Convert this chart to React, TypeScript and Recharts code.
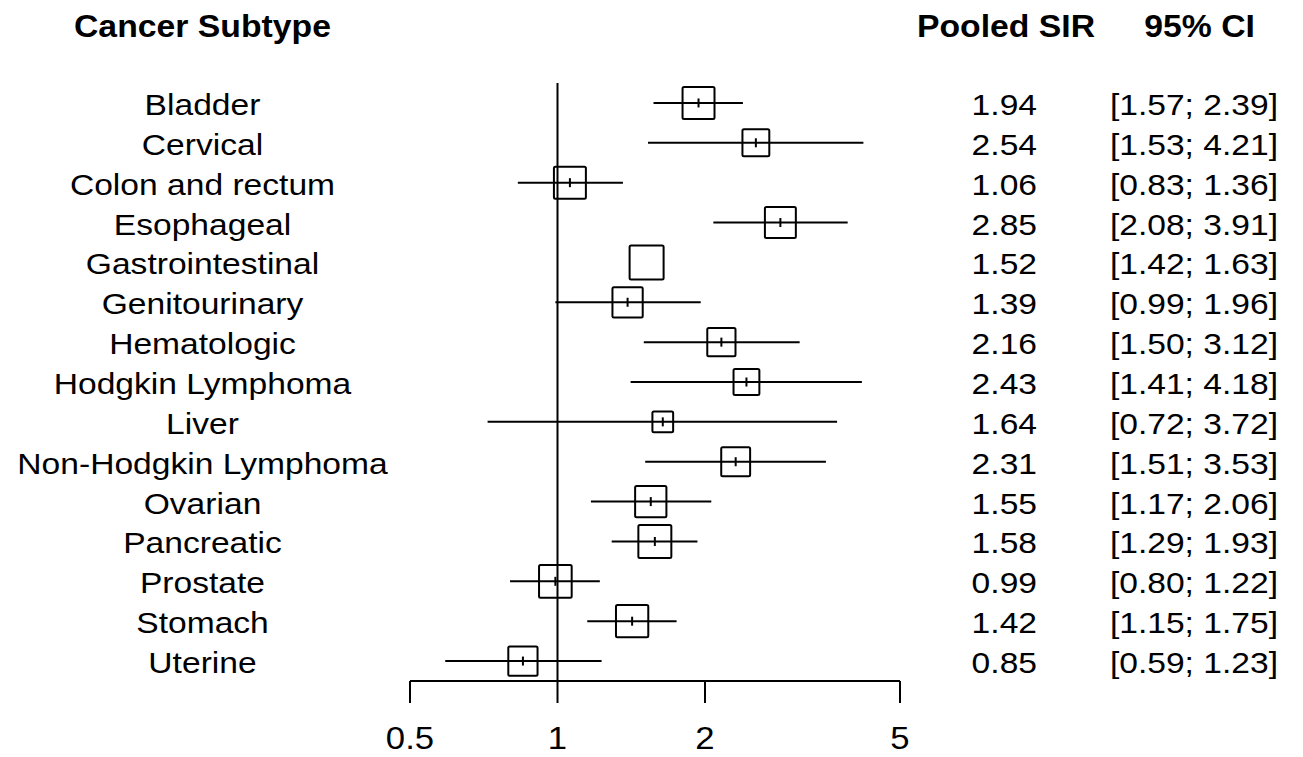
import { ScatterChart, Scatter, XAxis, YAxis, ErrorBar, ReferenceLine } from "recharts";

const subtypes = [
  "Bladder", "Cervical", "Colon and rectum", "Esophageal", "Gastrointestinal",
  "Genitourinary", "Hematologic", "Hodgkin Lymphoma", "Liver", "Non-Hodgkin Lymphoma",
  "Ovarian", "Pancreatic", "Prostate", "Stomach", "Uterine",
];
const pooledSir = [1.94, 2.54, 1.06, 2.85, 1.52, 1.39, 2.16, 2.43, 1.64, 2.31, 1.55, 1.58, 0.99, 1.42, 0.85];
const ciLower = [1.57, 1.53, 0.83, 2.08, 1.42, 0.99, 1.50, 1.41, 0.72, 1.51, 1.17, 1.29, 0.80, 1.15, 0.59];
const ciUpper = [2.39, 4.21, 1.36, 3.91, 1.63, 1.96, 3.12, 4.18, 3.72, 3.53, 2.06, 1.93, 1.22, 1.75, 1.23];
// relative weight of each pooled estimate (drives the box size)
const weights = [0.94, 0.79, 0.94, 0.91, 1.0, 0.89, 0.83, 0.76, 0.61, 0.85, 0.92, 0.97, 0.96, 0.95, 0.86];
const xTicks = [0.5, 1, 2, 5];
const xDomain = [0.5, 5];

const W = 1303;
const H = 757;
const LEFT_W = 410;
const RIGHT_W = 403;
const TOP = 83;
const X_AXIS_H = 76;
const PLOT_W = W - LEFT_W - RIGHT_W;
const MAX_BOX = 34;
const FONT = "'Liberation Sans', Arial, Helvetica, sans-serif";
const SX = 1.12;

const pxPerDecade = PLOT_W / Math.log10(xDomain[1] / xDomain[0]);

const rows = subtypes.map((name, i) => {
  const side = weights[i] * MAX_BOX;
  const ciPx = (Math.log10(ciUpper[i]) - Math.log10(ciLower[i])) * pxPerDecade;
  return {
    idx: i,
    name,
    sir: pooledSir[i],
    lo: ciLower[i],
    hi: ciUpper[i],
    weight: weights[i],
    err: [pooledSir[i] - ciLower[i], ciUpper[i] - pooledSir[i]],
    showCi: ciPx > side,
  };
});
const ciRows = rows.filter((r) => r.showCi);
const boxOnlyRows = rows.filter((r) => !r.showCi);

const BoxShape = (props: any) => {
  const { cx, cy, payload } = props;
  const s = payload.weight * MAX_BOX;
  return (
    <g>
      <rect x={cx - s / 2} y={cy - s / 2} width={s} height={s} rx={1.5} fill="none" stroke="#000" strokeWidth={2} />
      {payload.showCi && <line x1={cx} x2={cx} y1={cy - 4.5} y2={cy + 4.5} stroke="#000" strokeWidth={2} />}
    </g>
  );
};

const txt = (x: number, y: number, s: string, anchor: string, size = 30, bold = false) => (
  <text
    transform={`translate(${x},${y}) scale(${SX},1)`}
    textAnchor={anchor}
    fontSize={size}
    fontWeight={bold ? "bold" : "normal"}
    fontFamily={FONT}
    fill="#000"
  >
    {s}
  </text>
);

const NameTick = (props: any) => {
  const { y, payload } = props;
  const r = rows[payload.value];
  if (!r) return <g />;
  return txt(202.5, y + 12, r.name, "middle");
};

const ValueTick = (props: any) => {
  const { y, payload } = props;
  const r = rows[payload.value];
  if (!r) return <g />;
  return (
    <g>
      {txt(1037, y + 12, r.sir.toFixed(2), "end")}
      {txt(1278, y + 12, `[${r.lo.toFixed(2)}; ${r.hi.toFixed(2)}]`, "end")}
    </g>
  );
};

const XTick = (props: any) => {
  const { x, y, payload } = props;
  return txt(x, y + 44, String(payload.value), "middle", 31);
};

export default function App() {
  const idxTicks = rows.map((r) => r.idx);
  return (
    <div style={{ position: "absolute", left: 0, top: 0, width: W, height: H, background: "#fff" }}>
      <ScatterChart width={W} height={H} margin={{ top: TOP, right: 0, bottom: 0, left: 0 }}>
        <XAxis
          type="number"
          dataKey="sir"
          scale="log"
          domain={xDomain}
          ticks={xTicks}
          interval={0}
          height={X_AXIS_H}
          tickSize={22}
          tickMargin={2}
          axisLine={{ stroke: "#000", strokeWidth: 2 }}
          tickLine={{ stroke: "#000", strokeWidth: 2 }}
          tick={<XTick />}
        />
        <YAxis
          yAxisId="left"
          type="number"
          dataKey="idx"
          domain={[-0.5, 14.5]}
          reversed
          ticks={idxTicks}
          interval={0}
          width={LEFT_W}
          axisLine={false}
          tickLine={false}
          tick={<NameTick />}
        />
        <YAxis
          yAxisId="right"
          orientation="right"
          type="number"
          dataKey="idx"
          domain={[-0.5, 14.5]}
          reversed
          ticks={idxTicks}
          interval={0}
          width={RIGHT_W}
          axisLine={false}
          tickLine={false}
          tick={<ValueTick />}
        />
        <ReferenceLine yAxisId="left" x={1} stroke="#000" strokeWidth={2} />
        <Scatter yAxisId="left" data={ciRows} shape={<BoxShape />} isAnimationActive={false}>
          <ErrorBar dataKey="err" direction="x" width={0} stroke="#000" strokeWidth={2} isAnimationActive={false} />
        </Scatter>
        <Scatter yAxisId="left" data={boxOnlyRows} shape={<BoxShape />} isAnimationActive={false} />
        <Scatter yAxisId="right" data={rows} shape={() => <g />} isAnimationActive={false} />
      </ScatterChart>
      <svg width={W} height={H} style={{ position: "absolute", left: 0, top: 0, pointerEvents: "none" }}>
        <g>
          <text transform="translate(74,37) scale(1.055,1)" fontSize={32} fontWeight="bold" fontFamily={FONT} fill="#000">
            Cancer Subtype
          </text>
          <text transform="translate(917,37) scale(1.055,1)" fontSize={32} fontWeight="bold" fontFamily={FONT} fill="#000">
            Pooled SIR
          </text>
          <text transform="translate(1255,37) scale(1.055,1)" textAnchor="end" fontSize={32} fontWeight="bold" fontFamily={FONT} fill="#000">
            95% CI
          </text>
        </g>
      </svg>
    </div>
  );
}
